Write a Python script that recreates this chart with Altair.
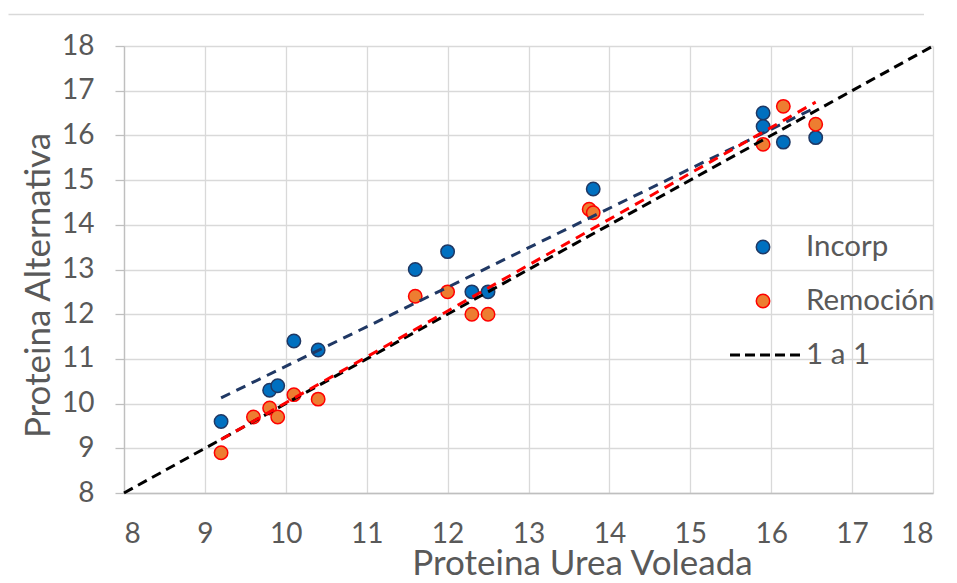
import altair as alt
import pandas as pd

# ---- data ----
incorp_x = [9.2, 9.8, 9.9, 10.1, 10.4, 11.6, 12.0, 12.3, 12.5, 13.8, 15.9, 15.9, 16.15, 16.55]
incorp_y = [9.6, 10.3, 10.4, 11.4, 11.2, 13.0, 13.4, 12.5, 12.5, 14.8, 16.5, 16.2, 15.85, 15.95]
remocion_x = [9.2, 9.6, 9.8, 9.9, 10.1, 10.4, 11.6, 12.0, 12.3, 12.5, 13.75, 13.8, 15.9, 16.15, 16.55]
remocion_y = [8.9, 9.7, 9.9, 9.7, 10.2, 10.1, 12.4, 12.5, 12.0, 12.0, 14.35, 14.27, 15.8, 16.65, 16.25]
one_to_one = [8, 18]
ticks = list(range(8, 19))
series_names = ["Incorp", "Remoción", "1 a 1"]

FONT = "Lato, sans-serif"
GREY = "#595959"
GRID = "#d9d9d9"

inc = pd.DataFrame({"x": incorp_x, "y": incorp_y})
rem = pd.DataFrame({"x": remocion_x, "y": remocion_y})
one = pd.DataFrame({"x": one_to_one, "y": one_to_one})
names = pd.DataFrame({"label": series_names})

xs = alt.Scale(domain=[8, 18], nice=False, zero=False)
ys = alt.Scale(domain=[8, 18], nice=False, zero=False)

X = alt.X("x:Q", scale=xs, title="Proteina Urea Voleada",
          axis=alt.Axis(values=ticks, tickSize=0, labelPadding=27,
                        titleX=458, titleY=81, titleBaseline="alphabetic"))
Y = alt.Y("y:Q", scale=ys, title="Proteina Alternativa",
          axis=alt.Axis(values=ticks, tickSize=9, labelPadding=21,
                        titleX=-86, titleY=239, titleBaseline="middle"))

# thin chart-area frame (top edge visible in the reference)
frame_top = alt.Chart(names).transform_filter(f"datum.label == '{series_names[0]}'").mark_rule(
    color=GRID, strokeWidth=1.5).encode(
    x=alt.value(-115.5), x2=alt.value(800), y=alt.value(-31.5))

def pts(df, fill, stroke):
    return alt.Chart(df).mark_point(filled=True, shape="circle", size=180, fill=fill,
                                    stroke=stroke, strokeWidth=1.5, opacity=1)

pts_inc = pts(inc, "#0070C0", "#1F3864").encode(x=X, y=Y)
pts_rem = pts(rem, "#ED7D31", "#FF0000").encode(x=X, y=Y)

line11 = alt.Chart(one).mark_line(color="black", strokeWidth=3, strokeDash=[10, 6]).encode(x=X, y=Y)

trend_inc = alt.Chart(inc).transform_regression("x", "y").mark_line(
    color="#203864", strokeWidth=3, strokeDash=[10, 7]).encode(x=X, y=Y)
trend_rem = alt.Chart(rem).transform_regression("x", "y").mark_line(
    color="#FF0000", strokeWidth=3, strokeDash=[10, 7]).encode(x=X, y=Y)

# ---- manual legend ----
leg_inc = pts(names, "#0070C0", "#1F3864").encode(
    x=alt.value(639), y=alt.value(201)).transform_filter(f"datum.label == '{series_names[0]}'")
leg_rem = pts(names, "#ED7D31", "#FF0000").encode(
    x=alt.value(639), y=alt.value(255)).transform_filter(f"datum.label == '{series_names[1]}'")
leg_line = alt.Chart(names).mark_rule(color="black", strokeWidth=3, strokeDash=[10, 5]).encode(
    x=alt.value(606), x2=alt.value(677), y=alt.value(309)).transform_filter(
    f"datum.label == '{series_names[2]}'")

def leg_label(i, ypos):
    return alt.Chart(names).transform_filter(f"datum.label == '{series_names[i]}'").mark_text(
        align="left", baseline="middle", font=FONT, fontSize=29.5, color=GREY).encode(
        x=alt.value(682), y=alt.value(ypos), text="label:N")

chart = alt.layer(frame_top, pts_inc, pts_rem, line11, trend_inc, trend_rem,
                  leg_inc, leg_rem, leg_line,
                  leg_label(0, 201), leg_label(1, 255), leg_label(2, 309)).properties(
    width=809, height=447,
    autosize=alt.AutoSizeParams(type="none"),
    padding={"left": 116, "top": 38, "right": 10, "bottom": 82},
).configure_view(stroke=None).configure_axis(
    labelFont=FONT, titleFont=FONT, labelColor=GREY, titleColor=GREY,
    labelFontSize=28, titleFontSize=35, titleFontWeight="normal",
    gridColor=GRID, gridWidth=1.3, domainColor="#bfbfbf", domainWidth=1.3,
    tickColor="#bfbfbf", tickWidth=1.3,
)

chart.save("out.html", embed_options={"renderer": "svg", "actions": False})
